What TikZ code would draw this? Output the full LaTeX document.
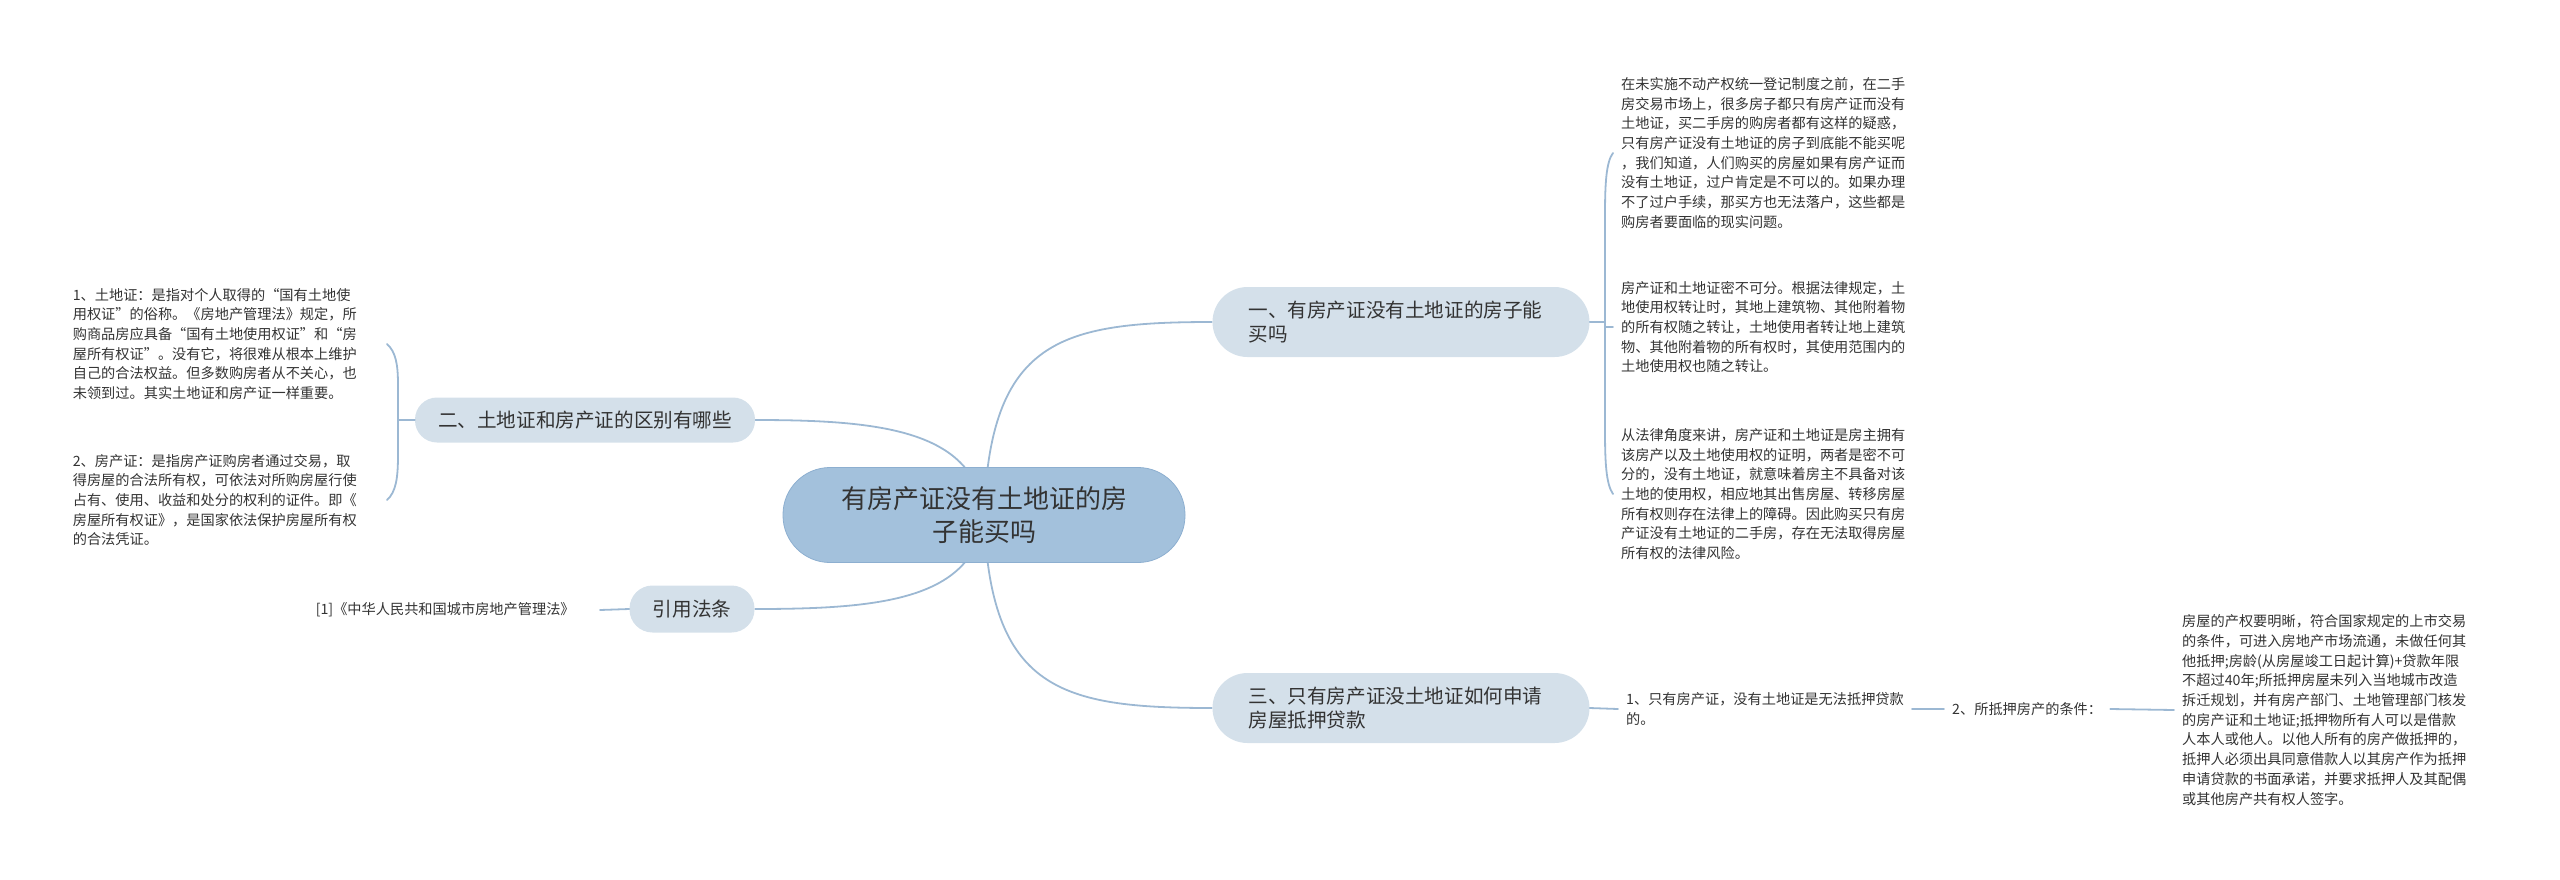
\documentclass[tikz,border=0pt]{standalone}
\usepackage{fontspec}
\setmainfont{Noto Sans CJK SC}
\usepackage{xcolor}
\usetikzlibrary{positioning}
\usetikzlibrary{backgrounds}
\definecolor{rootfill}{HTML}{A3C1DC}
\definecolor{rootline}{HTML}{8DAFD0}
\definecolor{branchfill}{HTML}{D4E0EA}
\definecolor{linkcol}{HTML}{9CB8D3}
\definecolor{txt}{HTML}{333333}

\tikzset{
    rootnode/.style={draw=rootline, line width=0.8pt, fill=rootfill, rounded corners=47pt,
        minimum width=402pt, minimum height=95pt, align=center, text=txt,
        font=\fontsize{26}{33}\selectfont},
    branch/.style={fill=branchfill, align=left, text=txt, inner xsep=36pt,
        font=\fontsize{19.6}{24}\selectfont},
    leaf/.style={align=left, inner xsep=8pt, inner ysep=0pt, text=txt,
        font=\fontsize{14.2}{19.7}\selectfont},
    link/.style={draw=linkcol, line width=1.8pt}
}

\begin{document}
\begin{tikzpicture}[x=1pt, y=-1pt, line cap=round]
            \useasboundingbox (0,0) rectangle (2560,879);
            % Root and main branches
            \node[rootnode] (R) at (984,515) {有房产证没有土地证的房\\子能买吗};
            \node[branch, text width=305pt, minimum height=70pt, rounded corners=35pt] (B1) at (1401,322) {一、有房产证没有土地证的房子能\\买吗};
            \node[branch, minimum width=340pt, minimum height=45pt, rounded corners=22pt, align=center, inner xsep=10pt] (B2) at (585,420) {二、土地证和房产证的区别有哪些};
            \node[branch, minimum width=125pt, minimum height=47pt, rounded corners=23pt, align=center, inner xsep=10pt] (B4) at (692,609) {引用法条};
            \node[branch, text width=305pt, minimum height=70pt, rounded corners=35pt] (B3) at (1401,708) {三、只有房产证没土地证如何申请\\房屋抵押贷款};

            % Leaves of branch one
            \node[leaf, anchor=west] (L1a) at (1613,153) {在未实施不动产权统一登记制度之前，在二手\\房交易市场上，很多房子都只有房产证而没有\\土地证，买二手房的购房者都有这样的疑惑，\\只有房产证没有土地证的房子到底能不能买呢\\，我们知道，人们购买的房屋如果有房产证而\\没有土地证，过户肯定是不可以的。如果办理\\不了过户手续，那买方也无法落户，这些都是\\购房者要面临的现实问题。};
            \node[leaf, anchor=west] (L1b) at (1613,327) {房产证和土地证密不可分。根据法律规定，土\\地使用权转让时，其地上建筑物、其他附着物\\的所有权随之转让，土地使用者转让地上建筑\\物、其他附着物的所有权时，其使用范围内的\\土地使用权也随之转让。};
            \node[leaf, anchor=west] (L1c) at (1613,494) {从法律角度来讲，房产证和土地证是房主拥有\\该房产以及土地使用权的证明，两者是密不可\\分的，没有土地证，就意味着房主不具备对该\\土地的使用权，相应地其出售房屋、转移房屋\\所有权则存在法律上的障碍。因此购买只有房\\产证没有土地证的二手房，存在无法取得房屋\\所有权的法律风险。};

            % Leaves of branch two
            \node[leaf, anchor=east, text width=306pt] (L2a) at (387,344) {1、土地证：是指对个人取得的“国有土地使\\用权证”的俗称。《房地产管理法》规定，所\\购商品房应具备“国有土地使用权证”和“房\\屋所有权证”。没有它，将很难从根本上维护\\自己的合法权益。但多数购房者从不关心，也\\未领到过。其实土地证和房产证一样重要。};
            \node[leaf, anchor=east, text width=306pt] (L2b) at (387,500) {2、房产证：是指房产证购房者通过交易，取\\得房屋的合法所有权，可依法对所购房屋行使\\占有、使用、收益和处分的权利的证件。即《\\房屋所有权证》，是国家依法保护房屋所有权\\的合法凭证。};

            % Cited law
            \node[leaf, anchor=east, text width=276pt] (Ref) at (600,610) {[1]《中华人民共和国城市房地产管理法》};

            % Leaves of branch three
            \node[leaf, anchor=west] (L3a) at (1618,709) {1、只有房产证，没有土地证是无法抵押贷款\\的。};
            \node[leaf, anchor=west] (L3b) at (1944,709) {2、所抵押房产的条件：};
            \node[leaf, anchor=west] (L3c) at (2174,710) {房屋的产权要明晰，符合国家规定的上市交易\\的条件，可进入房地产市场流通，未做任何其\\他抵押;房龄(从房屋竣工日起计算)+贷款年限\\不超过40年;所抵押房屋未列入当地城市改造\\拆迁规划，并有房产部门、土地管理部门核发\\的房产证和土地证;抵押物所有人可以是借款\\人本人或他人。以他人所有的房产做抵押的，\\抵押人必须出具同意借款人以其房产作为抵押\\申请贷款的书面承诺，并要求抵押人及其配偶\\或其他房产共有权人签字。};

            % Paths
            \begin{pgfonlayer}{background}
                \draw[link] (R.center) .. controls (990,340) and (1060,322) .. (B1.west); % root -> one
                \draw[link] (R.center) .. controls (975,430) and (880,420) .. (B2.east); % root -> two
                \draw[link] (R.center) .. controls (975,600) and (880,609) .. (B4.east); % root -> law
                \draw[link] (R.center) .. controls (990,690) and (1060,708) .. (B3.west); % root -> three
            \end{pgfonlayer}

            % Brace of branch one
            \coordinate (J1) at (1605,322);
            \draw[link] (B1.east) -- (J1);
            \draw[link] (L1a.west) .. controls (1606,162) and (1605,185) .. (1605,215) -- (1605,430) .. controls (1605,462) and (1606,484) .. (L1c.west);
            \draw[link] (J1 |- L1b.west) -- (L1b.west);

            % Brace of branch two
            \coordinate (J2) at (398,420);
            \draw[link] (B2.west) -- (J2);
            \draw[link] (L2a.east) .. controls (396,352) and (398,365) .. (398,385) -- (398,455) .. controls (398,478) and (396,492) .. (L2b.east);

            \draw[link] (B4.west) -- (Ref.east); % law -> text
            \draw[link] (B3.east) -- (L3a.west); % three -> 1
            \draw[link] (L3a.east) -- (L3b.west); % 1 -> 2
            \draw[link] (L3b.east) -- (L3c.west); % 2 -> conditions
        \end{tikzpicture}
\end{document}
